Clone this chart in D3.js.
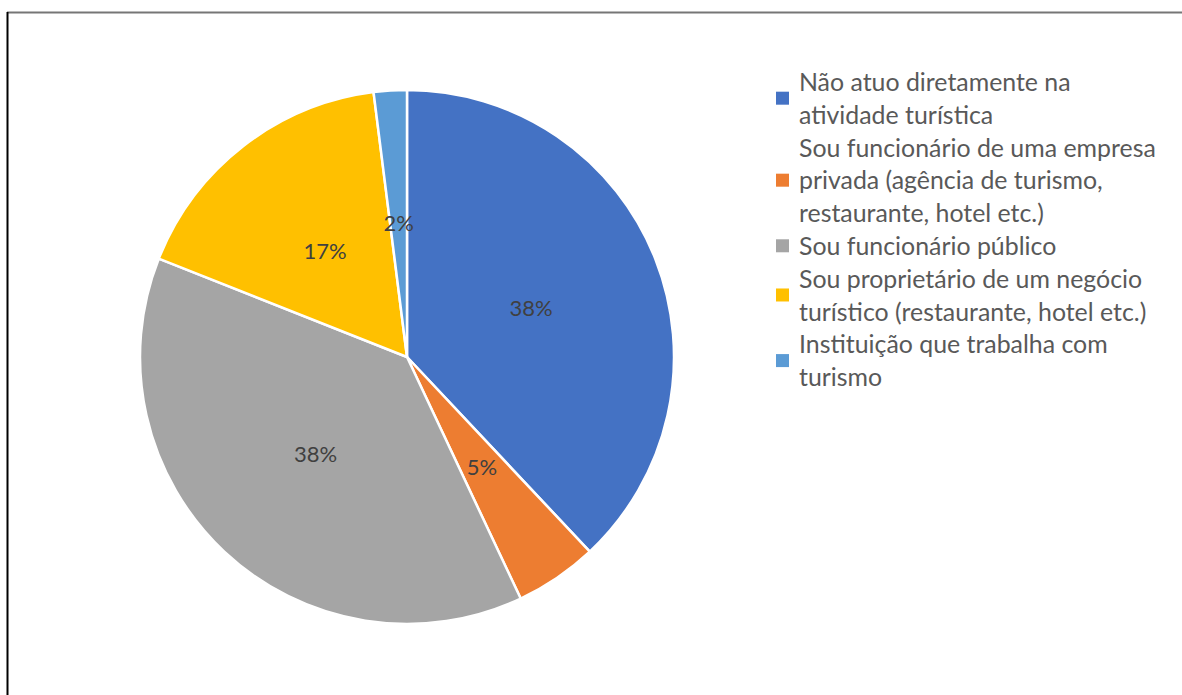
<!DOCTYPE html>
<html><head><meta charset="utf-8">
<script src="https://cdn.jsdelivr.net/npm/d3@7"></script>
<style>html,body{margin:0;padding:0;background:#fff;}svg{display:block;}</style>
</head><body>
<svg id="c" width="1182" height="695"></svg>
<script>
const categories = [
  ["Não atuo diretamente na", "atividade turística"],
  ["Sou funcionário de uma empresa", "privada (agência de turismo,", "restaurante, hotel etc.)"],
  ["Sou funcionário público"],
  ["Sou proprietário de um negócio", "turístico (restaurante, hotel etc.)"],
  ["Instituição que trabalha com", "turismo"]
];
const values = [38, 5, 38, 17, 2];
const valueLabels = ["38%", "5%", "38%", "17%", "2%"];
const colors = ["#4472C4", "#ED7D31", "#A5A5A5", "#FFC000", "#5B9BD5"];

const svg = d3.select("#c");
const W = 1182, H = 695;
svg.append("rect").attr("width", W).attr("height", H).attr("fill", "#fff");

// frame
svg.append("line").attr("x1", 7).attr("x2", W).attr("y1", 12.5).attr("y2", 12.5)
  .attr("stroke", "#767676").attr("stroke-width", 2);
svg.append("line").attr("x1", 7.5).attr("x2", 7.5).attr("y1", 12).attr("y2", H)
  .attr("stroke", "#000").attr("stroke-width", 2);

const cx = 407, cy = 357, R = 267;
const pie = d3.pie().sort(null).value(d => d)(values);
const arc = d3.arc().innerRadius(0).outerRadius(R);
const labelArc = d3.arc().innerRadius(R * 0.5).outerRadius(R * 0.5);

const g = svg.append("g").attr("transform", `translate(${cx},${cy})`);
g.selectAll("path").data(pie).join("path")
  .attr("d", arc).attr("fill", (d, i) => colors[i])
  .attr("stroke", "#fff").attr("stroke-width", 2.5).attr("stroke-linejoin", "round");

const font = "Lato, 'Open Sans', sans-serif";
g.selectAll("text.lbl").data(pie).join("text").attr("class", "lbl")
  .attr("transform", d => `translate(${labelArc.centroid(d)})`)
  .attr("text-anchor", "middle").attr("dy", "0.35em")
  .attr("font-family", font).attr("font-size", 22).attr("fill", "#404040")
  .text((d, i) => valueLabels[i]);

// legend
const probe = svg.append("text").attr("font-family", font).attr("font-size", 20)
  .text("Sou funcionário de uma empresa");
const wProbe = probe.node().getComputedTextLength();
probe.remove();
const fs = 20 * 357 / wProbe;

const lineH = 32.8;
const legX = 799, firstBase = 91;
let lineIdx = 0;
const leg = svg.append("g");
categories.forEach((lines, i) => {
  const start = lineIdx;
  lines.forEach((t) => {
    leg.append("text").attr("x", legX).attr("y", firstBase + lineIdx * lineH)
      .attr("font-family", font).attr("font-size", fs).attr("fill", "#595959").text(t);
    lineIdx++;
  });
  const midY = firstBase + ((start + lineIdx - 1) / 2) * lineH - fs * 0.33 - 1;
  leg.append("rect").attr("x", 776).attr("y", midY - 6.5).attr("width", 13).attr("height", 13)
    .attr("fill", colors[i]);
});
</script>
</body></html>
